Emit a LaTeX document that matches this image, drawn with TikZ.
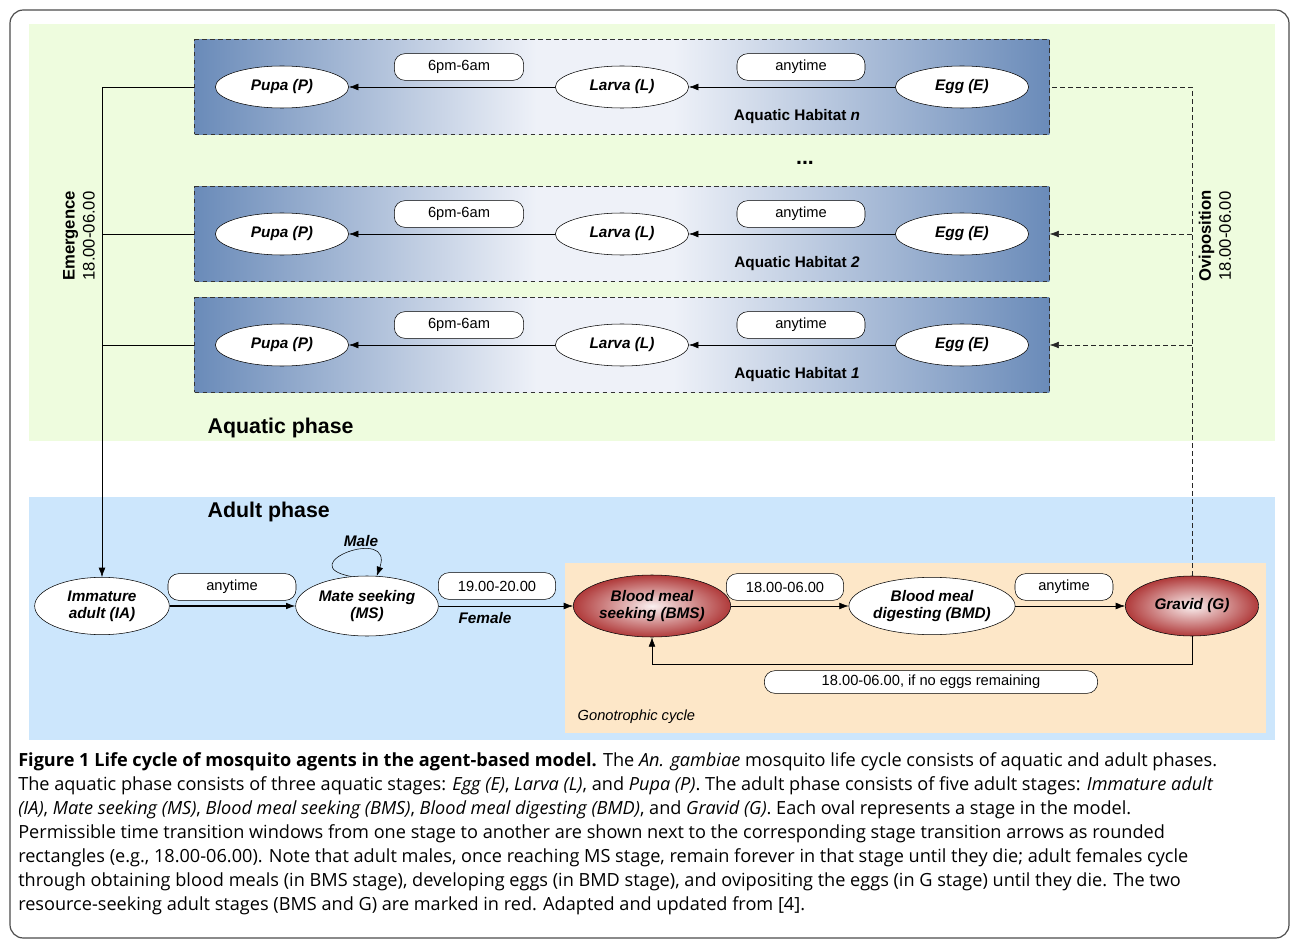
\documentclass[tikz,border=0pt]{standalone}
\usepackage{fontspec}
\setmainfont{Liberation Sans}
\newfontfamily\captionfont{Open Sans}
\usetikzlibrary{shapes.geometric,arrows.meta,positioning}

\definecolor{aquabg}{HTML}{EEFCDE}
\definecolor{adultbg}{HTML}{CCE6FC}
\definecolor{gonobg}{HTML}{FDE7C8}
\definecolor{habdark}{HTML}{6A8BB9}
\definecolor{hablight}{HTML}{EEF1F8}
\definecolor{blooddark}{HTML}{B03A3A}
\definecolor{bloodlight}{HTML}{FAF0F0}

\pgfdeclarehorizontalshading{habitatshade}{100bp}{color(0bp)=(habdark); color(25bp)=(habdark); color(45bp)=(hablight); color(53bp)=(hablight); color(75bp)=(habdark); color(100bp)=(habdark)}

\begin{document}
\begin{tikzpicture}[x=0.75pt,y=-0.75pt,>={Latex[length=7pt,width=5pt]},font=\fontsize{11}{13}\selectfont]
    \tikzstyle{stage}=[ellipse,draw=black,fill=white,inner sep=0pt,align=center,font=\fontsize{11.5}{13}\selectfont\bfseries\itshape]
    \tikzstyle{water stage}=[stage,minimum width=100pt,minimum height=31.5pt]
    \tikzstyle{adult stage}=[stage,minimum height=44pt]
    \tikzstyle{resource stage}=[adult stage,inner color=bloodlight,outer color=blooddark]
    \tikzstyle{window}=[draw=black,fill=white,rounded corners=8pt,minimum height=20pt,inner sep=1pt]
    \tikzstyle{habitat}=[draw=black!80,dash pattern=on 3.5pt off 2.5pt,shading=habitatshade,minimum width=641pt,minimum height=71pt,inner sep=0pt]
    \tikzstyle{habitat label}=[font=\fontsize{11.5}{13}\selectfont\bfseries]
    \tikzstyle{phase}=[anchor=west,font=\fontsize{16}{18}\selectfont\bfseries]
    \tikzstyle{annot}=[font=\fontsize{11.5}{13}\selectfont\bfseries\itshape]
    \tikzstyle{ovi}=[draw=black!85,dash pattern=on 3.5pt off 2.5pt]

    \useasboundingbox (0,0) rectangle (1290,945);

    % Frame and phase backgrounds
    \draw[black!70,line width=0.9pt,rounded corners=10pt] (10,10) rectangle (1289,938);
    \fill[aquabg] (29,24) rectangle (1275,441);
    \fill[adultbg] (29,497) rectangle (1275,740);
    \fill[gonobg] (565,563) rectangle (1266,733);

    % Draw the aquatic habitats
    \foreach \name / \y in {n/87,2/234,1/345}{
        \node[habitat] (H-\name) at (622,\y) {};
        \node[water stage] (P-\name) at (282,\y) {Pupa (P)};
        \node[water stage] (L-\name) at (622,\y) {Larva (L)};
        \node[water stage] (E-\name) at (962,\y) {Egg (E)};
        \node[window,minimum width=97pt] (w1-\name) at (459,\y-20) {6pm-6am};
        \node[window,minimum width=96pt] (w2-\name) at (801,\y-20) {anytime};
        \node[habitat label] (hl-\name) at (797,\y+30) {Aquatic Habitat \textit{\name}};
        \path[->] (E-\name) edge (L-\name)
                  (L-\name) edge (P-\name);
    }
    \node[font=\fontsize{16}{18}\selectfont\bfseries] (dots) at (805,163) {...};
    \node[phase] (aquatic) at (203,428) {Aquatic phase};

    % Draw the adult stages
    \node[adult stage,minimum width=101pt,minimum height=43pt] (IA) at (102,606) {Immature\\adult (IA)};
    \node[adult stage,minimum width=107pt,minimum height=45pt] (MS) at (367,606) {Mate seeking\\(MS)};
    \node[resource stage,minimum width=118pt,minimum height=46.5pt] (BMS) at (652,606) {Blood meal\\seeking (BMS)};
    \node[adult stage,minimum width=124pt,minimum height=43pt] (BMD) at (932,606) {Blood meal\\digesting (BMD)};
    \node[resource stage,minimum width=100pt,minimum height=45pt] (G) at (1192,606) {Gravid (G)};
    \node[phase] (adult) at (203,512) {Adult phase};
    \node[anchor=west,font=\fontsize{11}{13}\selectfont\itshape] (gono) at (573,717) {Gonotrophic cycle};

    % Transitions between adult stages
    \draw[->,thick] (IA) -- (MS);
    \draw[->] (MS) -- (BMS);
    \draw[->] (BMS) -- (BMD);
    \draw[->] (BMD) -- (G);
    \draw[->] (MS.118) .. controls (290,565) and (395,525) .. (MS.72);
    \draw[->] (G.south) -- ++(0,28) -| (BMS.south);

    \node[window,minimum width=96pt] (wIA) at (232,587) {anytime};
    \node[window,minimum width=88pt] (wMS) at (497,586) {19.00-20.00};
    \node[window,minimum width=88pt] (wBMS) at (785,587) {18.00-06.00};
    \node[window,minimum width=73.5pt] (wBMD) at (1064,587) {anytime};
    \node[window,minimum width=250pt,minimum height=17pt,rounded corners=8pt] (wG) at (931,682) {18.00-06.00, if no eggs remaining};
    \node[annot] (male) at (361,541) {Male};
    \node[annot] (female) at (485,618) {Female};

    % Emergence and oviposition
    \draw[->] (H-n.west) -| (IA.north);
    \draw (H-2.west) -- (H-2.west -| IA.north);
    \draw (H-1.west) -- (H-1.west -| IA.north);
    \node[rotate=90,align=center,font=\fontsize{12.5}{15}\selectfont] (emerge) at (79,236) {\textbf{Emergence}\\18.00-06.00};

    \draw[ovi] (G.north) |- (H-n.east);
    \draw[ovi,->] (G.north |- H-2.east) -- (H-2.east);
    \draw[ovi,->] (G.north |- H-1.east) -- (H-1.east);
    \node[rotate=90,align=center,font=\fontsize{12.5}{15}\selectfont] (ovip) at (1215,236) {\textbf{Oviposition}\\18.00-06.00};

    % Caption
    \node[anchor=north west,align=left,inner sep=0pt,font=\captionfont\fontsize{13.6}{18}\selectfont] (caption) at (18,752) {%
        \textbf{Figure 1 Life cycle of mosquito agents in the agent-based model.} The \textit{An. gambiae} mosquito life cycle consists of aquatic and adult phases.\\
        The aquatic phase consists of three aquatic stages: \textit{Egg (E)}, \textit{Larva (L)}, and \textit{Pupa (P)}. The adult phase consists of five adult stages: \textit{Immature adult}\\
        \textit{(IA)}, \textit{Mate seeking (MS)}, \textit{Blood meal seeking (BMS)}, \textit{Blood meal digesting (BMD)}, and \textit{Gravid (G)}. Each oval represents a stage in the model.\\
        Permissible time transition windows from one stage to another are shown next to the corresponding stage transition arrows as rounded\\
        rectangles (e.g., 18.00-06.00). Note that adult males, once reaching MS stage, remain forever in that stage until they die; adult females cycle\\
        through obtaining blood meals (in BMS stage), developing eggs (in BMD stage), and ovipositing the eggs (in G stage) until they die. The two\\
        resource-seeking adult stages (BMS and G) are marked in red. Adapted and updated from [4].};
\end{tikzpicture}
\end{document}
